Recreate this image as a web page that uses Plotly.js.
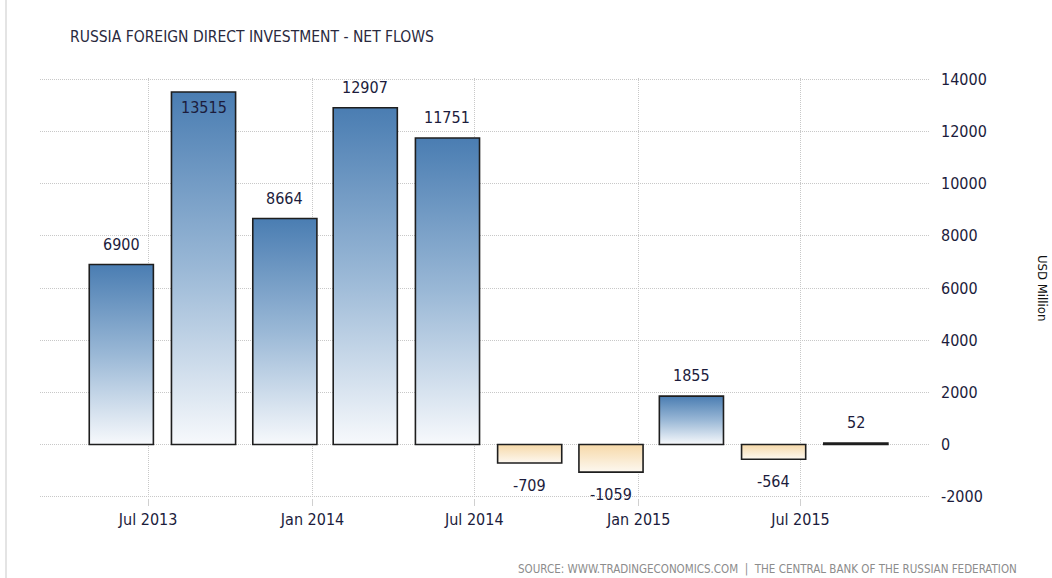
<!DOCTYPE html>
<html>
<head>
<meta charset="utf-8">
<script src="https://cdn.plot.ly/plotly-3.0.1.min.js"></script>
<style>
  html, body { margin: 0; padding: 0; background: #fff; }
  #wrap { position: relative; width: 1052px; height: 578px; }
  #edge { position: absolute; left: 5px; top: 0; width: 2px; height: 578px; background: #e4e4e4; }
  #chart { position: absolute; left: 0; top: 0; width: 1052px; height: 578px; }
</style>
</head>
<body>
<div id="wrap"><div id="chart"></div><div id="edge"></div></div>
<script>
// Quarterly net FDI flows, USD million (bar centre dates)
var quarters = ['2013-06-01', '2013-09-01', '2013-12-01', '2014-03-01', '2014-06-01',
                '2014-09-01', '2014-12-01', '2015-03-01', '2015-06-01', '2015-09-01'];
var netFlows = [6900, 13515, 8664, 12907, 11751, -709, -1059, 1855, -564, 52];
var tickDates = ['2013-07-01', '2014-01-01', '2014-07-01', '2015-01-01', '2015-07-01'];
var tickLabels = ['Jul 2013', 'Jan 2014', 'Jul 2014', 'Jan 2015', 'Jul 2015'];
var yTickVals = [-2000, 0, 2000, 4000, 6000, 8000, 10000, 12000, 14000];
var yTickLabels = ['-2000', '0', '2000', '4000', '6000', '8000', '10000', '12000', '14000'];

var FONT = '"DejaVu Sans Condensed", "DejaVu Sans", sans-serif';
var TXT = '#1c1c3c';

var trace = {
  type: 'bar',
  x: quarters,
  y: netFlows,
  width: 6.2e9,
  marker: {
    color: netFlows.map(function (v) { return v >= 0 ? '#7fa6cc' : '#f8e6c8'; }),
    line: { color: '#1e1e1e', width: 1.6 }
  },
  hoverinfo: 'x+y',
  cliponaxis: false
};

var annotations = netFlows.map(function (v, i) {
  var inside = v > 13000;
  var pos = v >= 0;
  return {
    x: quarters[i], y: v, xref: 'x', yref: 'y',
    text: String(v), showarrow: false,
    yanchor: (pos && !inside) ? 'bottom' : 'top',
    yshift: inside ? -4 : (pos ? 9 : -11),
    font: { family: FONT, size: 16, color: TXT }
  };
});

annotations.push({
  xref: 'paper', yref: 'paper', x: 1.127, y: 0.5,
  text: 'USD Million', textangle: 90, showarrow: false,
  xanchor: 'center', yanchor: 'middle',
  font: { family: FONT, size: 13, color: '#111' }
});

annotations.push({
  xref: 'paper', yref: 'paper', x: 1.1, y: -0.168,
  xanchor: 'right', yanchor: 'middle',
  text: 'SOURCE: WWW.TRADINGECONOMICS.COM  |  THE CENTRAL BANK OF THE RUSSIAN FEDERATION',
  showarrow: false,
  font: { family: FONT, size: 11.5, color: '#8c8c8c' }
});

var layout = {
  width: 1052, height: 578,
  margin: { l: 40, r: 122, t: 78, b: 80 },
  paper_bgcolor: '#fff', plot_bgcolor: '#fff',
  showlegend: false,
  title: {
    text: 'RUSSIA FOREIGN DIRECT INVESTMENT - NET FLOWS',
    x: 0, xref: 'paper', xanchor: 'left', y: 0.936, yref: 'container', yanchor: 'middle',
    pad: { l: 30 },
    font: { family: FONT, size: 15.5, color: '#2a2a3e' }
  },
  xaxis: {
    type: 'date',
    range: ['2013-03-02', '2015-11-23'],
    tickmode: 'array', tickvals: tickDates, ticktext: tickLabels,
    showgrid: true, gridcolor: '#c8c8c8', griddash: '1px,1px', gridwidth: 1,
    ticks: 'outside', ticklen: 7, tickcolor: '#d0d0d0',
    showline: false, zeroline: false,
    tickfont: { family: FONT, size: 16, color: TXT }
  },
  yaxis: {
    side: 'right',
    range: [-2050, 14050],
    tickmode: 'array', tickvals: yTickVals, ticktext: yTickLabels,
    showgrid: true, gridcolor: '#c8c8c8', griddash: '1px,1px', gridwidth: 1,
    zeroline: false, showline: false, ticks: '',
    ticklabelstandoff: 10,
    tickfont: { family: FONT, size: 16, color: TXT }
  },
  annotations: annotations
};

var gd = document.getElementById('chart');
Plotly.newPlot(gd, [trace], layout, { staticPlot: true, displayModeBar: false }).then(function () {
  var svgNS = 'http://www.w3.org/2000/svg';
  var svg = gd.querySelector('.main-svg');
  var defs = svg.querySelector('defs') || svg.insertBefore(document.createElementNS(svgNS, 'defs'), svg.firstChild);
  function grad(id, stops) {
    var g = document.createElementNS(svgNS, 'linearGradient');
    g.setAttribute('id', id);
    g.setAttribute('x1', '0'); g.setAttribute('y1', '0');
    g.setAttribute('x2', '0'); g.setAttribute('y2', '1');
    stops.forEach(function (s) {
      var st = document.createElementNS(svgNS, 'stop');
      st.setAttribute('offset', s[0]);
      st.setAttribute('stop-color', s[1]);
      g.appendChild(st);
    });
    defs.appendChild(g);
  }
  grad('gradPos', [['0', '#4a7db2'], ['0.5', '#9ab8d6'], ['1', '#f7f9fc']]);
  grad('gradNeg', [['0', '#f6d9a9'], ['1', '#fdf8f0']]);
  var pts = gd.querySelectorAll('.bars .point path');
  pts.forEach(function (p, i) {
    var v = netFlows[i];
    p.style.fill = v >= 0 ? 'url(#gradPos)' : 'url(#gradNeg)';
  });
});
</script>
</body>
</html>
